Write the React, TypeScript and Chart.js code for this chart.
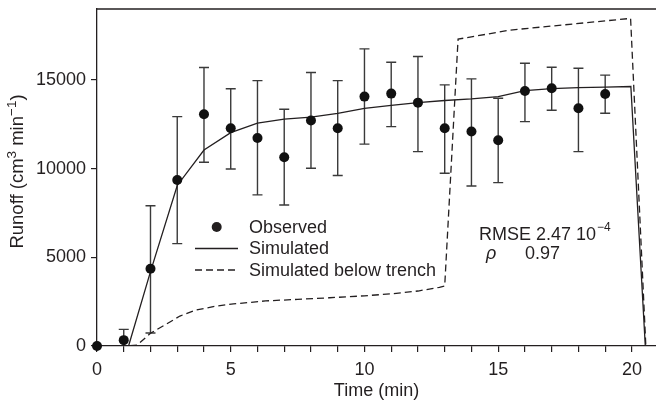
import React, { useEffect, useRef } from 'react';
import { Chart, registerables } from 'chart.js';

Chart.register(...registerables);

// ---- Data ----
const TIME = [0, 1, 2, 3, 4, 5, 6, 7, 8, 9, 10, 11, 12, 13, 14, 15, 16, 17, 18, 19];
const OBSERVED = [0, 330, 4360, 9360, 13070, 12280, 11730, 10640, 12710, 12280, 14060, 14230, 13720, 12280, 12090, 11600, 14380, 14530, 13400, 14210];
const OBS_LOW = [null, -280, 730, 5770, 10360, 9980, 8520, 7950, 10020, 9610, 11380, 12370, 10960, 9740, 9020, 9210, 12650, 13290, 10960, 13120];
const OBS_HIGH = [null, 940, 7910, 12930, 15700, 14500, 14960, 13350, 15420, 14960, 16750, 16000, 16320, 14720, 15060, 13970, 15940, 15720, 15660, 15270];

const SIM_TIME = [0, 1, 1.18, 2, 3, 4, 5, 6, 7, 8, 9, 10, 11, 12, 13, 14, 15, 16, 17, 18, 19, 19.96, 20.5];
const SIM_RUNOFF = [0, 0, 0, 4190, 9050, 11050, 12030, 12560, 12790, 12900, 13120, 13400, 13570, 13720, 13840, 13930, 14060, 14400, 14510, 14570, 14590, 14630, 0];

const TRENCH_TIME = [0, 1, 1.5, 2, 2.6, 3.1, 3.7, 4.5, 5.1, 6.3, 7.5, 8.7, 10, 11, 12, 12.8, 13, 13.5, 15.45, 19.95, 20.52];
const TRENCH_RUNOFF = [0, 0, 50, 720, 1240, 1690, 2030, 2260, 2370, 2540, 2630, 2720, 2830, 2940, 3100, 3310, 3380, 17300, 17810, 18470, 0];

const X_TICKS = [0, 1, 2, 3, 4, 5, 6, 7, 8, 9, 10, 11, 12, 13, 14, 15, 16, 17, 18, 19, 20];
const Y_TICKS = [0, 5000, 10000, 15000];
const X_MAX = 20.9;
const Y_MAX = 19000;

const LEGEND_LABELS = ['Observed', 'Simulated', 'Simulated below trench'];
const X_TITLE = 'Time (min)';
const RMSE_TEXT = 'RMSE 2.47 10';
const RMSE_EXP = '\u22124';
const RHO_TEXT = '\u03C1';
const RHO_VALUE = '0.97';

const INK = '#231f20';
const FONT = '"Liberation Sans", Arial, Helvetica, sans-serif';

const toPoints = (xs: number[], ys: (number | null)[]) => xs.map((x, i) => ({ x, y: ys[i] as number }));

const zeroPad = (s: any) => {
  s.paddingTop = 0;
  s.paddingBottom = 0;
  s.paddingLeft = 0;
  s.paddingRight = 0;
};

const decorPlugin = {
  id: 'decor',
  beforeDatasetsDraw(chart: any) {
    const { ctx, chartArea, scales } = chart;
    const xs = scales.x;
    const ys = scales.y;
    ctx.save();
    ctx.beginPath();
    ctx.rect(chartArea.left, chartArea.top, chartArea.right - chartArea.left, chartArea.bottom - chartArea.top);
    ctx.clip();
    ctx.strokeStyle = '#3a3a3a';
    ctx.lineWidth = 1.4;
    TIME.forEach((t, i) => {
      const lo = OBS_LOW[i];
      const hi = OBS_HIGH[i];
      if (lo == null || hi == null) return;
      const px = xs.getPixelForValue(t);
      const pLo = ys.getPixelForValue(lo);
      const pHi = ys.getPixelForValue(hi);
      ctx.beginPath();
      ctx.moveTo(px, pLo);
      ctx.lineTo(px, pHi);
      ctx.moveTo(px - 5, pLo);
      ctx.lineTo(px + 5, pLo);
      ctx.moveTo(px - 5, pHi);
      ctx.lineTo(px + 5, pHi);
      ctx.stroke();
    });
    ctx.restore();
  },
  afterDraw(chart: any) {
    const { ctx, chartArea } = chart;
    ctx.save();
    // top frame line
    ctx.strokeStyle = INK;
    ctx.lineWidth = 1.3;
    ctx.beginPath();
    ctx.moveTo(chartArea.left, chartArea.top);
    ctx.lineTo(chartArea.right, chartArea.top);
    ctx.stroke();

    // legend
    const lx = chartArea.left + 98;
    const ly = chartArea.top + 218;
    const rowH = 21.5;
    ctx.fillStyle = INK;
    ctx.font = `18px ${FONT}`;
    ctx.textBaseline = 'middle';
    ctx.textAlign = 'left';
    ctx.beginPath();
    ctx.arc(lx + 21.7, ly, 5, 0, Math.PI * 2);
    ctx.fill();
    ctx.lineWidth = 1.3;
    ctx.beginPath();
    ctx.moveTo(lx, ly + rowH);
    ctx.lineTo(lx + 43, ly + rowH);
    ctx.stroke();
    ctx.setLineDash([7, 4]);
    ctx.beginPath();
    ctx.moveTo(lx, ly + rowH * 2);
    ctx.lineTo(lx + 43, ly + rowH * 2);
    ctx.stroke();
    ctx.setLineDash([]);
    LEGEND_LABELS.forEach((lab, i) => {
      ctx.fillText(lab, lx + 54, ly + rowH * i + 1);
    });

    // statistics annotation
    const ax = chartArea.left + 382;
    const ay = chartArea.top + 226;
    ctx.font = `18px ${FONT}`;
    ctx.fillText(RMSE_TEXT, ax, ay);
    const w = ctx.measureText(RMSE_TEXT).width;
    ctx.font = `12px ${FONT}`;
    ctx.fillText(RMSE_EXP, ax + w + 1, ay - 7);
    ctx.font = `italic 18px ${FONT}`;
    ctx.fillText(RHO_TEXT, ax + 7, ay + 19);
    ctx.font = `18px ${FONT}`;
    ctx.fillText(RHO_VALUE, ax + 46, ay + 19);

    // y-axis title with superscripts
    const parts = [
      { t: 'Runoff (cm', sup: false },
      { t: '3', sup: true },
      { t: ' min', sup: false },
      { t: '\u22121', sup: true },
      { t: ')', sup: false },
    ];
    const mainFont = `18.5px ${FONT}`;
    const supFont = `13.5px ${FONT}`;
    let total = 0;
    const widths = parts.map((p) => {
      ctx.font = p.sup ? supFont : mainFont;
      const ww = ctx.measureText(p.t).width;
      total += ww;
      return ww;
    });
    ctx.translate(18, (chartArea.top + chartArea.bottom) / 2 - 6);
    ctx.rotate(-Math.PI / 2);
    let cx = -total / 2;
    parts.forEach((p, i) => {
      ctx.font = p.sup ? supFont : mainFont;
      ctx.fillText(p.t, cx, p.sup ? -6 : 0);
      cx += widths[i];
    });
    ctx.restore();
  },
};

export default function App() {
  const ref = useRef<HTMLCanvasElement | null>(null);

  useEffect(() => {
    if (!ref.current) return;
    const chart = new Chart(ref.current, {
      type: 'scatter',
      data: {
        datasets: [
          {
            label: 'Observed',
            data: toPoints(TIME, OBSERVED),
            showLine: false,
            pointRadius: 5,
            pointBackgroundColor: '#111',
            pointBorderColor: '#111',
            pointBorderWidth: 0,
            clip: false,
            order: 0,
          } as any,
          {
            label: 'Simulated',
            data: toPoints(SIM_TIME, SIM_RUNOFF),
            showLine: true,
            pointRadius: 0,
            borderColor: INK,
            borderWidth: 1.3,
            tension: 0,
            order: 1,
          },
          {
            label: 'Simulated below trench',
            data: toPoints(TRENCH_TIME, TRENCH_RUNOFF),
            showLine: true,
            pointRadius: 0,
            borderColor: INK,
            borderWidth: 1.3,
            borderDash: [7, 4],
            tension: 0,
            order: 2,
          },
        ],
      },
      options: {
        responsive: false,
        animation: false,
        events: [],
        layout: { autoPadding: false, padding: { top: 9, right: 0, left: 0, bottom: 0 } },
        plugins: {
          legend: { display: false },
          tooltip: { enabled: false },
          title: { display: false },
        },
        scales: {
          x: {
            type: 'linear',
            position: 'bottom',
            min: 0,
            max: X_MAX,
            afterFit: (s: any) => { s.height = 56; zeroPad(s); },
            afterBuildTicks: (s: any) => { s.ticks = X_TICKS.map((v) => ({ value: v })); },
            border: { display: true, color: INK, width: 1.3 },
            grid: { drawOnChartArea: false, drawTicks: true, tickLength: 6, color: INK, lineWidth: 1.2 },
            ticks: {
              autoSkip: false,
              maxRotation: 0,
              padding: 7,
              color: INK,
              font: { size: 18, family: FONT },
              callback: (v: any) => (Number(v) % 5 === 0 ? String(v) : ''),
            },
            title: {
              display: true,
              text: X_TITLE,
              color: INK,
              font: { size: 18, family: FONT },
              padding: { top: 0, bottom: 0 },
            },
          },
          y: {
            type: 'linear',
            position: 'left',
            min: 0,
            max: Y_MAX,
            afterFit: (s: any) => { s.width = 97; zeroPad(s); },
            afterBuildTicks: (s: any) => { s.ticks = Y_TICKS.map((v) => ({ value: v })); },
            border: { display: true, color: INK, width: 1.3 },
            grid: { drawOnChartArea: false, drawTicks: true, tickLength: 6, color: INK, lineWidth: 1.2 },
            ticks: {
              padding: 5,
              color: INK,
              font: { size: 18, family: FONT },
              callback: (v: any) => String(v),
            },
          },
        },
      },
      plugins: [decorPlugin],
    } as any);
    return () => chart.destroy();
  }, []);

  return (
    <div style={{ position: 'fixed', left: 0, top: 0, width: 656, height: 402, background: '#fff' }}>
      <canvas ref={ref} width={656} height={402} style={{ display: 'block' }} />
    </div>
  );
}
